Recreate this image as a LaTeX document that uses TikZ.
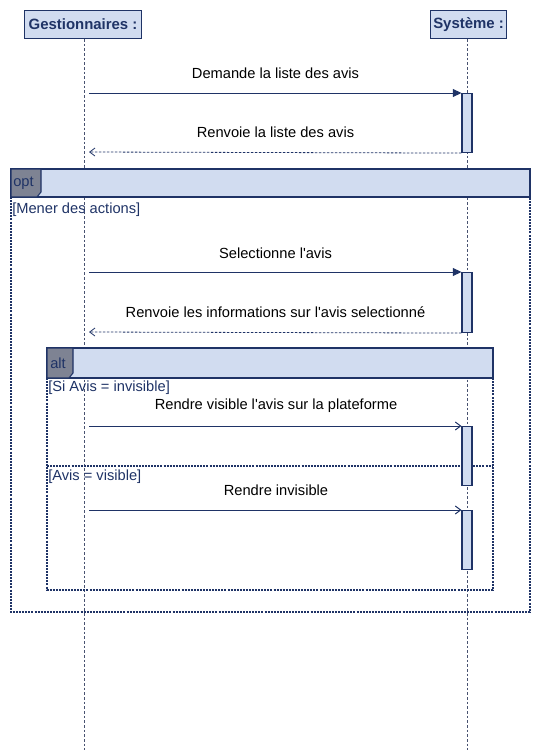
\documentclass[tikz,border=0pt]{standalone}
\usepackage{fontspec}
\setmainfont{Liberation Sans}
\usetikzlibrary{arrows.meta,positioning,calc}
\definecolor{umlNavy}{RGB}{31, 51, 102}
\definecolor{umlFill}{RGB}{209, 220, 240}
\definecolor{umlTag}{RGB}{126, 131, 147}
\definecolor{umlLife}{RGB}{72, 82, 112}

\tikzset{
  actorbox/.style={draw=umlNavy, fill=umlFill, line width=0.8pt, inner sep=0pt, anchor=north west,
    minimum height=21pt, font=\fontsize{11.2pt}{13pt}\selectfont\bfseries, text=umlNavy},
  lifeline/.style={draw=umlLife, line width=0.5pt, dash pattern=on 2pt off 1.5pt},
  actbar/.style={draw=umlNavy, fill=umlFill, line width=0.8pt, inner sep=0pt, anchor=north,
    minimum width=7.5pt},
  msgcall/.style={draw=umlNavy, line width=0.75pt, -{Triangle[length=6.5pt,width=6pt]}},
  msgasync/.style={draw=umlNavy, line width=0.75pt, -{Straight Barb[length=4pt,width=6pt]}},
  msgreply/.style={draw=umlNavy, line width=0.6pt, dash pattern=on 2pt off 1pt, -{Straight Barb[length=4pt,width=6pt]}},
  msglabel/.style={font=\fontsize{11pt}{13pt}\selectfont, text=black, inner sep=0pt},
  guardlabel/.style={font=\fontsize{11pt}{13pt}\selectfont, text=umlNavy, inner sep=0pt, anchor=west},
  framehead/.style={draw=umlNavy, fill=umlFill, line width=0.8pt},
  framebody/.style={draw=umlNavy, line width=0.9pt, dash pattern=on 1.5pt off 0.8pt},
  tagshape/.style={draw=umlNavy, fill=umlTag, line width=0.8pt},
  taglabel/.style={font=\fontsize{11pt}{13pt}\selectfont, text=umlNavy, inner sep=0pt, anchor=west}
}

\begin{document}
\begin{tikzpicture}[x=0.75pt, y=-0.75pt]
  \useasboundingbox (0,0) rectangle (541,750);

  % participants
  \node[actorbox, minimum width=87.75pt] (gest) at (24,10) {Gestionnaires :};
  \node[actorbox, minimum width=57pt] (sys) at (430,10) {Système :};

  \coordinate (gestEnd) at (84,750);
  \coordinate (sysEnd) at (467,750);
  \draw[lifeline] (gest.south -| gestEnd) -- (gestEnd);
  \draw[lifeline] (sys.south -| sysEnd) -- (sysEnd);

  % opt frame
  \draw[framebody] (11,197) rectangle (530,612);
  \draw[framehead] (11,169) rectangle (530,197);
  \draw[tagshape] (11,169) -- (41,169) -- (41,192) -- (37,197) -- (11,197) -- cycle;
  \node[taglabel] (optTag) at (13,183) {opt};
  \node[guardlabel] (optGuard) at (12,210) {[Mener des actions]};

  % alt frame
  \draw[framebody] (47,378) rectangle (493,590);
  \draw[framehead] (47,348) rectangle (493,378);
  \draw[tagshape] (47,348) -- (73,348) -- (73,373) -- (69,378) -- (47,378) -- cycle;
  \node[taglabel] (altTag) at (50,363) {alt};
  \node[guardlabel] (altGuardA) at (48,388) {[Si Avis = invisible]};
  \draw[framebody] (47,466) -- (493,466);
  \node[guardlabel] (altGuardB) at (48,477) {[Avis = visible]};

  % activations
  \node[actbar, minimum height=44.25pt] (act1) at (467,93) {};
  \node[actbar, minimum height=45pt] (act2) at (467,272) {};
  \node[actbar, minimum height=44.25pt] (act3) at (467,426) {};
  \node[actbar, minimum height=44.25pt] (act4) at (467,510) {};

  \coordinate (g1) at (89,93);
  \coordinate (g2) at (89,152);
  \coordinate (g3) at (89,272);
  \coordinate (g4) at (89,332);
  \coordinate (g5) at (89,426);
  \coordinate (g6) at (89,510);

  % messages
  \draw[msgcall] (g1) -- (act1.north west);
  \node[msglabel] (m1) at (275.5,73) {Demande la liste des avis};
  \draw[msgreply] (act1.south west) -- (g2);
  \node[msglabel] (m2) at (275.5,132) {Renvoie la liste des avis};

  \draw[msgcall] (g3) -- (act2.north west);
  \node[msglabel] (m3) at (275.5,253) {Selectionne l\textquotesingle avis};
  \draw[msgreply] (act2.south west) -- (g4);
  \node[msglabel] (m4) at (275.5,312) {Renvoie les informations sur l\textquotesingle avis selectionné};

  \draw[msgasync] (g5) -- (act3.north west);
  \node[msglabel] (m5) at (276,406) {Rendre visible l\textquotesingle avis sur la plateforme};
  \draw[msgasync] (g6) -- (act4.north west);
  \node[msglabel] (m6) at (276,490) {Rendre invisible};
\end{tikzpicture}
\end{document}
